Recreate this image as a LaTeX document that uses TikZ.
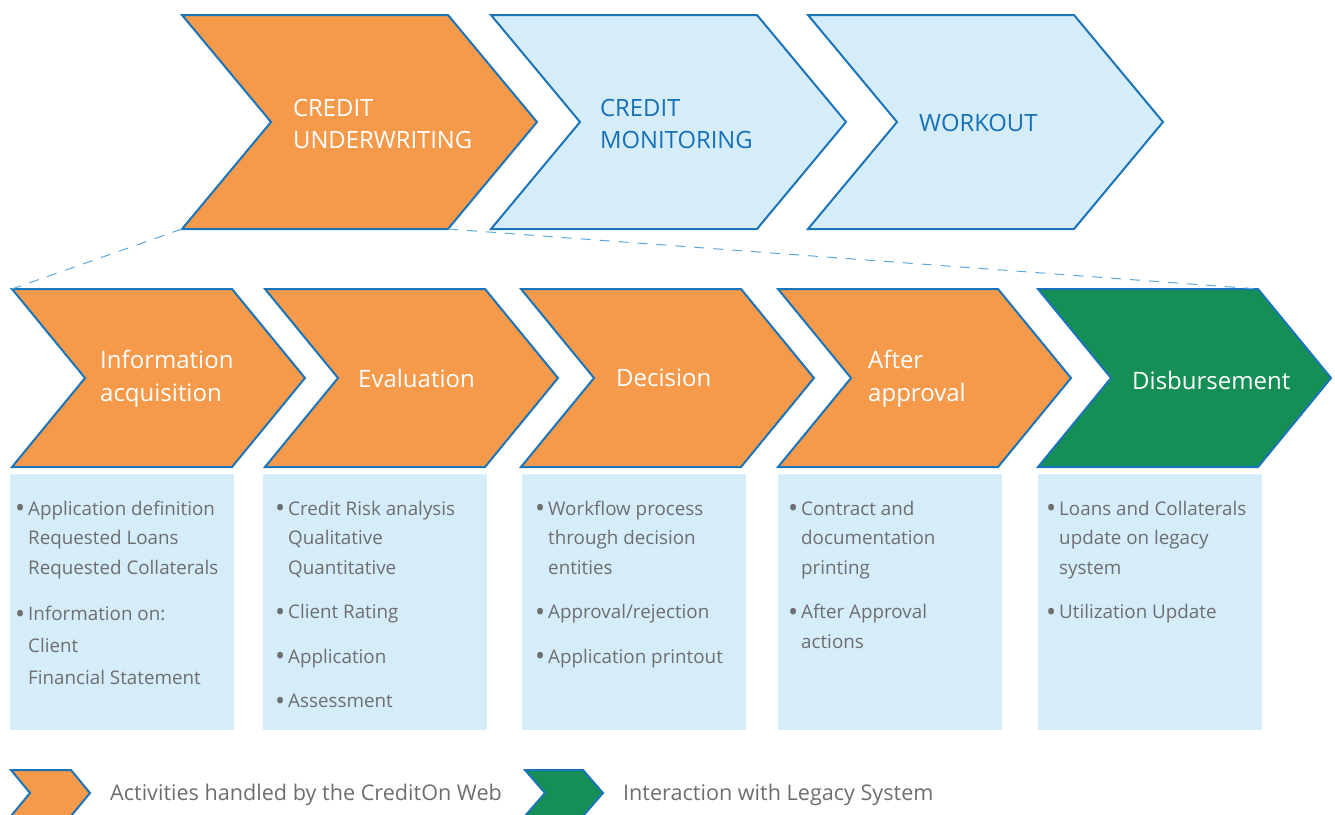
\documentclass[tikz,border=0pt]{standalone}
\usepackage{fontspec}
\setmainfont{Open Sans}
\usepackage{xcolor}
\usepackage{tikz}
\usetikzlibrary{positioning, calc}

\definecolor{chevorange}{HTML}{F5994A}
\definecolor{chevline}{HTML}{1A74BA}
\definecolor{chevpale}{HTML}{D5ECF9}
\definecolor{chevgreen}{HTML}{168F56}
\definecolor{headblue}{HTML}{1570B8}
\definecolor{notegray}{HTML}{6D6E70}
\definecolor{zoomline}{HTML}{5AA7DC}

% hanging bullet for the note boxes
\newcommand{\bul}{\leavevmode\llap{\raisebox{-2.5pt}{\fontsize{27}{27}\selectfont\textbullet}\hspace{3pt}}}

\begin{document}
\begin{tikzpicture}[x=1pt, y=-1pt,
		webchev/.style={fill=chevorange, draw=chevline, line width=2pt},
		palechev/.style={fill=chevpale, draw=chevline, line width=2pt},
		legacychev/.style={fill=chevgreen, draw=chevline, line width=2pt},
		notebox/.style={fill=chevpale},
		headtxt/.style={anchor=west, align=left, inner sep=0pt, font=\fontsize{23.8}{32}\selectfont},
		steptxt/.style={anchor=west, align=left, inner sep=0pt, text=white, font=\fontsize{24}{33}\selectfont},
		notetxt/.style={anchor=base west, inner sep=0pt, text=notegray, font=\fontsize{18.8}{29.5}\selectfont},
		legendtxt/.style={anchor=west, inner sep=0pt, text=notegray, font=\fontsize{21.6}{24}\selectfont}]
			
			\useasboundingbox (0,0) rectangle (1335,814);
			
			% ----- Parameters -----
			\def\gap{15pt} % extra space between two bullets
			\def\nw{224}   % width of a note box
			\def\nh{256}   % height of a note box
			
			% ----- Top row: the three phases -----
			\draw[webchev] (182,15) -- (448,15) -- (537,122) -- (448,229) coordinate (uw-br)
				-- (182,229) coordinate (uw-bl) -- (271,122) -- cycle;
			\node[headtxt, text=white] (uw) at (293,124) {CREDIT\\UNDERWRITING};
			
			\draw[palechev] (491,15) -- (757,15) -- (846,122) -- (757,229) -- (491,229) -- (580,122) -- cycle;
			\node[headtxt, text=headblue] (mon) at (600,124) {CREDIT\\MONITORING};
			
			\draw[palechev] (808,15) -- (1074,15) -- (1163,122) -- (1074,229) -- (808,229) -- (897,122) -- cycle;
			\node[headtxt, text=headblue] (wo) at (919,123) {WORKOUT};
			
			% ----- Bottom row: steps of credit underwriting -----
			\draw[webchev] (12,289) coordinate (ia-tl) -- (232,289) -- (305,378) -- (232,467) -- (12,467) -- (85,378) -- cycle;
			\node[steptxt] (ia) at (100,379) {Information\\acquisition};
			
			\draw[webchev] (265,289) -- (485,289) -- (558,378) -- (485,467) -- (265,467) -- (338,378) -- cycle;
			\node[steptxt] (ev) at (358,378) {Evaluation};
			
			\draw[webchev] (521,289) -- (741,289) -- (814,378) -- (741,467) -- (521,467) -- (594,378) -- cycle;
			\node[steptxt] (dc) at (616,378) {Decision};
			
			\draw[webchev] (778,289) -- (998,289) -- (1071,378) -- (998,467) -- (778,467) -- (851,378) -- cycle;
			\node[steptxt] (aa) at (868,379) {After\\approval};
			
			\draw[legacychev] (1038,289) -- (1258,289) coordinate (db-tr) -- (1331,378) -- (1258,467) -- (1038,467) -- (1111,378) -- cycle;
			\node[steptxt] (db) at (1132,380) {Disbursement};
			
			% Zoom lines from the first phase to its steps
			\draw[zoomline, line width=1pt, dash pattern=on 10pt off 9pt] (uw-bl) -- (ia-tl);
			\draw[zoomline, line width=1pt, dash pattern=on 10pt off 9pt] (uw-br) -- (db-tr);
			
			% ----- Note boxes -----
			\fill[notebox] (10,474) rectangle ++(\nw,\nh);
			\fill[notebox] (263,474) rectangle ++(\nw,\nh);
			\fill[notebox] (522,474) rectangle ++(\nw,\nh);
			\fill[notebox] (778,474) rectangle ++(\nw,\nh);
			\fill[notebox] (1038,474) rectangle ++(\nw,\nh);
			
			\node[notetxt] (ia-note) at (28,515) {\parbox[t]{210pt}{\raggedright
				\bul Application definition\\ Requested Loans\\ Requested Collaterals\\[17pt]
				\bul Information on:\\[2.5pt] Client\\[2.5pt] Financial Statement}};
			\node[notetxt] (ev-note) at (288,515) {\parbox[t]{200pt}{\raggedright
				\bul Credit Risk analysis\\ Qualitative\\ Quantitative\\[\gap]
				\bul Client Rating\\[\gap]
				\bul Application\\[\gap]
				\bul Assessment}};
			\node[notetxt] (dc-note) at (548,515) {\parbox[t]{200pt}{\raggedright
				\bul Workflow process\\ through decision\\ entities\\[\gap]
				\bul Approval/rejection\\[\gap]
				\bul Application printout}};
			\node[notetxt] (aa-note) at (801,515) {\parbox[t]{200pt}{\raggedright
				\bul Contract and\\ documentation\\ printing\\[\gap]
				\bul After Approval\\ actions}};
			\node[notetxt] (db-note) at (1059,515) {\parbox[t]{200pt}{\raggedright
				\bul Loans and Collaterals\\ update on legacy\\ system\\[\gap]
				\bul Utilization Update}};
			
			% ----- Legend -----
			\draw[webchev] (11,770) -- (71,770) -- (90,793) -- (71,816) -- (11,816) -- (30,793) -- cycle;
			\node[legendtxt] (lg-web) at (110,795) {Activities handled by the CreditOn Web};
			
			\draw[legacychev] (525,770) -- (583,770) -- (603,793) -- (583,816) -- (525,816) -- (545,793) -- cycle;
			\node[legendtxt] (lg-legacy) at (623,795) {Interaction with Legacy System};
			
		\end{tikzpicture}
\end{document}
